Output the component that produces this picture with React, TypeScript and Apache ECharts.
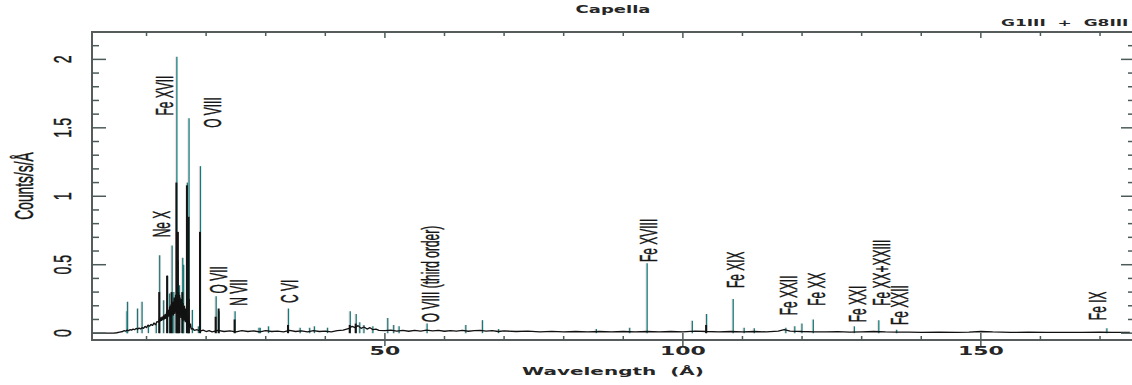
import React, { useEffect, useRef } from 'react';
import * as echarts from 'echarts';

// ---- axis ranges ----
const X_MIN = 0.85;
const X_MAX = 175.7;
const Y_MIN = -0.05;
const Y_MAX = 2.2;

// ---- continuum (black trace) ----
const continuumWavelength = [
  1, 4.5, 5.0, 5.5, 6.0, 6.25, 6.5, 6.75, 7.0, 7.25, 7.5, 7.75, 8.0, 8.25, 8.5, 8.75,
  9.0, 9.25, 9.5, 9.75, 10.0, 10.25, 10.5, 10.75, 11.0, 11.25, 11.5, 11.75,
  12.0, 12.125, 12.25, 12.375, 12.5, 12.625, 12.75, 12.875, 13.0, 13.125, 13.25, 13.375,
  13.5, 13.625, 13.75, 13.875, 14.0, 14.125, 14.25, 14.375, 14.5, 14.625, 14.75, 14.875,
  15.0, 15.125, 15.25, 15.375, 15.5, 15.625, 15.75, 15.875, 16.0, 16.125, 16.25, 16.375,
  16.5, 16.625, 16.75, 16.875, 17.0, 17.125, 17.25, 17.375, 17.5, 17.75, 18.0,
  18.5, 19, 19.5, 20, 20.5, 21, 22, 23, 24, 25, 26, 27, 28, 29, 30, 31, 32, 33, 34, 35,
  36, 37, 38, 39, 40, 41, 42, 43, 44, 44.5, 45, 45.5, 46, 46.5, 47, 47.5, 48, 48.5, 49,
  50, 51, 52, 53, 54, 55, 56, 57, 58, 59, 60, 61, 62, 63, 64, 65, 66, 67, 68, 69, 70,
  72, 74, 76, 78, 80, 82, 84, 86, 88, 90, 92, 94, 96, 98, 100, 102, 104, 106, 108, 110,
  112, 114, 116, 117, 118, 120, 122, 124, 126, 128, 130, 132, 134, 136, 138, 140, 143,
  146, 148, 150, 152, 155, 158, 161, 164, 167, 170, 172, 175,
];
const continuumCounts = [
  0, 0, 0.003, 0.008, 0.012, 0.018, 0.014, 0.022, 0.018, 0.026, 0.022, 0.03, 0.025, 0.035, 0.028, 0.038,
  0.03, 0.04, 0.035, 0.05, 0.04, 0.06, 0.05, 0.065, 0.055, 0.075, 0.06, 0.085,
  0.08, 0.1, 0.085, 0.115, 0.09, 0.12, 0.095, 0.13, 0.1, 0.14, 0.105, 0.16,
  0.11, 0.17, 0.12, 0.19, 0.12, 0.21, 0.13, 0.23, 0.13, 0.26, 0.14, 0.28,
  0.15, 0.27, 0.14, 0.3, 0.12, 0.26, 0.11, 0.25, 0.1, 0.22, 0.09, 0.2,
  0.08, 0.18, 0.07, 0.12, 0.05, 0.09, 0.04, 0.07, 0.03, 0.035, 0.02,
  0.025, 0.015, 0.022, 0.012, 0.018, 0.01, 0.02, 0.012, 0.016, 0.01, 0.018, 0.012, 0.016, 0.01, 0.018, 0.012, 0.015, 0.01, 0.02, 0.012,
  0.016, 0.01, 0.018, 0.012, 0.015, 0.01, 0.018, 0.022, 0.035, 0.05, 0.04, 0.055, 0.035, 0.045, 0.03, 0.04, 0.025, 0.03, 0.02,
  0.018, 0.022, 0.015, 0.02, 0.014, 0.02, 0.015, 0.022, 0.016, 0.02, 0.014, 0.018, 0.015, 0.02, 0.014, 0.018, 0.02, 0.015, 0.018, 0.012, 0.016,
  0.012, 0.015, 0.01, 0.013, 0.01, 0.012, 0.009, 0.012, 0.009, 0.012, 0.01, 0.012, 0.009, 0.012, 0.01, 0.015, 0.012, 0.01, 0.012, 0.01,
  0.012, 0.009, 0.015, 0.025, 0.015, 0.012, 0.01, 0.009, 0.011, 0.008, 0.01, 0.012, 0.009, 0.008, 0.007, 0.006, 0.007,
  0.006, 0.008, 0.012, 0.009, 0.006, 0.007, 0.005, 0.006, 0.005, 0.007, 0.006, 0.005,
];

// ---- emission lines, thin (teal) trace ----
const tealLineWavelength = [
  6.65, 6.74, 8.42, 9.17, 10.24, 11.55, 12.13, 12.8, 13.45, 13.8, 14.21, 14.5, 15.01, 15.26, 15.45,
  16.0, 16.15, 16.78, 17.05, 17.62, 18.63, 18.97, 21.6, 22.1, 24.78, 28.79, 29.0, 30.4, 33.74,
  35.7, 37.3, 38.1, 40.3, 44.1, 45.1, 45.7, 46.4, 47.9, 50.4, 51.4, 52.3, 57.0, 63.5, 66.3, 69.0,
  85.4, 91.0, 93.92, 101.5, 103.9, 108.36, 110.2, 111.9, 117.2, 118.7, 119.9, 121.8, 128.7,
  132.8, 135.8, 171.07,
];
const tealLinePeak = [
  0.16, 0.23, 0.18, 0.23, 0.06, 0.07, 0.57, 0.24, 0.42, 0.29, 0.64, 0.3, 2.02, 0.53, 0.35,
  0.55, 0.5, 1.1, 1.57, 0.17, 0.05, 1.22, 0.27, 0.16, 0.16, 0.04, 0.04, 0.05, 0.18,
  0.04, 0.04, 0.05, 0.04, 0.16, 0.14, 0.08, 0.06, 0.05, 0.11, 0.06, 0.05, 0.07, 0.06, 0.095, 0.03,
  0.03, 0.04, 0.51, 0.09, 0.14, 0.25, 0.04, 0.035, 0.04, 0.05, 0.07, 0.1, 0.05,
  0.095, 0.025, 0.035,
];

// ---- emission lines, thick (black) trace ----
const blackLineWavelength = [
  12.13, 13.45, 14.0, 14.21, 15.01, 15.26, 15.5, 16.0, 16.78, 17.05, 17.1, 18.97, 21.6, 22.1,
  24.78, 33.74, 44.1, 45.1, 103.9,
];
const blackLinePeak = [
  0.3, 0.42, 0.2, 0.3, 1.1, 0.74, 0.28, 0.3, 1.08, 0.85, 0.25, 0.74, 0.12, 0.18,
  0.1, 0.06, 0.06, 0.07, 0.06,
];

// ---- line identifications ----
const labelTexts = [
  'Ne X', 'Fe XVII', 'O VIII', 'O VII', 'N VII', 'C VI', 'O VIII (third order)', 'Fe XVIII',
  'Fe XIX', 'Fe XXII', 'Fe XX', 'Fe XXI', 'Fe XX+XXIII', 'Fe XXII', 'Fe IX',
];
const labelWavelength = [12.6, 13.1, 21.2, 22.1, 25.5, 34.1, 57.7, 94.3, 108.9, 117.8, 122.5, 129.4, 133.4, 136.4, 169.6];
const labelBase = [0.7, 1.59, 1.5, 0.29, 0.2, 0.22, 0.08, 0.52, 0.33, 0.13, 0.2, 0.08, 0.2, 0.06, 0.095];

// ---- ticks ----
const xTickValues = [10, 20, 30, 40, 50, 60, 70, 80, 90, 100, 110, 120, 130, 140, 150, 160, 170];
const xLabelValues = [50, 100, 150];
const xTickLabels = ['50', '100', '150'];
const yTickValues = [0, 0.1, 0.2, 0.3, 0.4, 0.5, 0.6, 0.7, 0.8, 0.9, 1.0, 1.1, 1.2, 1.3, 1.4, 1.5, 1.6, 1.7, 1.8, 1.9, 2.0, 2.1];
const yLabelValues = [0, 0.5, 1, 1.5, 2];
const yTickLabels = ['0', '0.5', '1', '1.5', '2'];

const TITLE = 'Capella';
const SUBTITLE = 'G1III  +  G8III';
const X_NAME = 'Wavelength  (Å)';
const Y_NAME = 'Counts/s/Å';

export default function App() {
  const ref = useRef<HTMLDivElement>(null);

  useEffect(() => {
    if (!ref.current) return;
    const chart = echarts.init(ref.current, null, { renderer: 'svg' });

    const hiddenAxis = {
      type: 'value' as const,
      axisLine: { show: false },
      axisTick: { show: false },
      axisLabel: { show: false },
      splitLine: { show: false },
    };

    chart.setOption({
      animation: false,
      backgroundColor: '#ffffff',
      grid: {
        left: 92,
        top: 32,
        width: 1042,
        height: 308,
        show: true,
        borderColor: '#565c5c',
        borderWidth: 2,
        backgroundColor: 'transparent',
        containLabel: false,
        outerBoundsMode: 'none',
      },
      xAxis: [
        { ...hiddenAxis, min: X_MIN, max: X_MAX },
        { ...hiddenAxis, min: X_MIN, max: X_MAX, show: false },
      ],
      yAxis: [{ ...hiddenAxis, min: Y_MIN, max: Y_MAX }],
      series: [
        {
          name: 'fringe',
          type: 'bar',
          xAxisIndex: 0,
          barWidth: 1,
          barGap: '0%',
          itemStyle: { color: '#f8d6d6' },
          data: tealLineWavelength.map((w, i) => [w, tealLinePeak[i]]),
          silent: true,
          z: 2,
        },
        {
          name: 'thin',
          type: 'bar',
          xAxisIndex: 0,
          barWidth: 1.3,
          barGap: '0%',
          itemStyle: { color: '#127a7a' },
          data: tealLineWavelength.map((w, i) => [w, tealLinePeak[i]]),
          silent: true,
          z: 2,
        },
        {
          name: 'thick',
          type: 'bar',
          xAxisIndex: 1,
          barWidth: 2,
          itemStyle: { color: '#141414' },
          data: blackLineWavelength.map((w, i) => [w, blackLinePeak[i]]),
          silent: true,
          z: 3,
        },
        {
          name: 'continuum',
          type: 'line',
          xAxisIndex: 0,
          showSymbol: false,
          symbol: 'none',
          lineStyle: { color: '#111111', width: 1.3 },
          data: continuumWavelength.map((w, i) => [w, continuumCounts[i]]),
          silent: true,
          z: 4,
        },
      ],
    });

    const px = (x: number, y: number) =>
      chart.convertToPixel({ xAxisIndex: 0, yAxisIndex: 0 } as any, [x, y]) as number[];

    const [gx0, gyTop] = px(X_MIN, Y_MAX);
    const [gx1, gyBot] = px(X_MAX, Y_MIN);
    const tickColor = '#4d5a5a';
    const els: any[] = [];

    const line = (x1: number, y1: number, x2: number, y2: number) =>
      els.push({
        type: 'line',
        silent: true,
        z: 20,
        shape: { x1, y1, x2, y2 },
        style: { stroke: tickColor, lineWidth: 1.5 },
      });

    xTickValues.forEach((v) => {
      const x = px(v, 0)[0];
      const major = xLabelValues.indexOf(v) >= 0;
      if (major) {
        line(x, gyBot - 7, x, gyBot + 6);
        line(x, gyTop, x, gyTop + 6);
      } else {
        line(x, gyBot, x, gyBot - 4);
        line(x, gyTop, x, gyTop + 4);
      }
    });
    yTickValues.forEach((v) => {
      const y = px(X_MIN, v)[1];
      const major = yLabelValues.some((m) => Math.abs(m - v) < 1e-9);
      const len = major ? 14 : 7;
      line(gx0, y, gx0 + len, y);
      line(Math.min(gx1, 1133), y, Math.min(gx1, 1133) - len + 2, y);
    });

    const wideText = (text: string, x: number, y: number, size: number, align: string) =>
      els.push({
        type: 'text',
        silent: true,
        z: 20,
        x,
        y,
        scaleY: 0.54,
        style: {
          text,
          fontFamily: '"DejaVu Sans"',
          fontWeight: 'bold',
          fontSize: size,
          fill: '#262626',
          align,
          textAlign: align,
          verticalAlign: 'middle',
          textVerticalAlign: 'middle',
        },
      });

    const rotText = (text: string, x: number, y: number, size: number, scale: number, align: string) =>
      els.push({
        type: 'text',
        silent: true,
        z: 20,
        x,
        y,
        rotation: Math.PI / 2,
        scaleX: scale,
        style: {
          text,
          fontFamily: '"Liberation Sans", Arial, sans-serif',
          fontSize: size,
          fill: '#161616',
          stroke: '#161616',
          lineWidth: 0.5,
          align,
          textAlign: align,
          verticalAlign: 'middle',
          textVerticalAlign: 'middle',
        },
      });

    const midX = (gx0 + gx1) / 2;
    wideText(TITLE, midX, 10, 18, 'center');
    wideText(SUBTITLE, 1001, 23, 17, 'left');
    wideText(X_NAME, midX, 371, 20, 'center');
    xLabelValues.forEach((v, i) => wideText(xTickLabels[i], px(v, 0)[0], 351, 22, 'center'));

    yLabelValues.forEach((v, i) => rotText(yTickLabels[i], 63, px(X_MIN, v)[1], 23, 0.62, 'center'));
    rotText(Y_NAME, 24, (gyTop + gyBot) / 2, 26, 0.53, 'center');

    labelTexts.forEach((t, i) => {
      const [x, y] = px(labelWavelength[i], labelBase[i]);
      rotText(t, x, y, 23, 0.52, 'left');
    });

    chart.setOption({ graphic: { elements: els } });

    return () => chart.dispose();
  }, []);

  return (
    <div
      ref={ref}
      style={{ position: 'fixed', left: 0, top: 0, width: 1132, height: 385, background: '#fff' }}
    />
  );
}
